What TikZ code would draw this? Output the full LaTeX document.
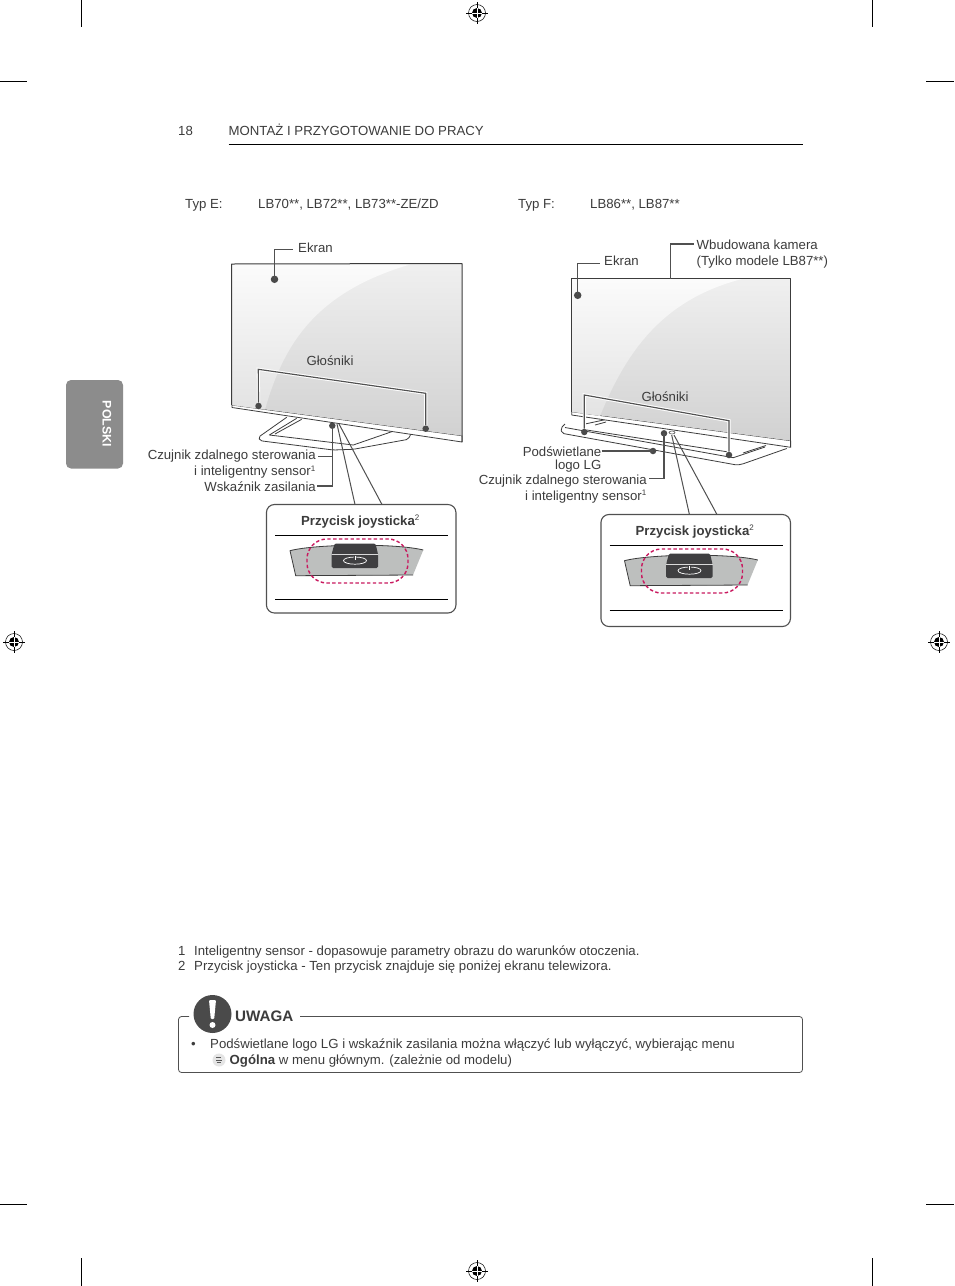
\documentclass[tikz,border=0pt]{standalone}
\usepackage{fontspec}
\setmainfont{Liberation Sans}
\usetikzlibrary{calc,shapes.geometric}
\definecolor{nInk}{HTML}{3C3C3C}
\definecolor{nLead}{HTML}{505050}
\definecolor{nDot}{HTML}{4A4A4A}
\definecolor{nTab}{HTML}{8C8C8C}
\definecolor{nBand}{HTML}{BDBFBE}
\definecolor{nKey}{HTML}{3F3F41}
\definecolor{sCrimson}{HTML}{C9195F}
\tikzset{
  txt/.style={font=\fontsize{13.2}{15}\selectfont, text=nInk, inner sep=0pt, text height=9pt, text depth=3pt},
  lblR/.style={txt, anchor=east},
  lblL/.style={txt, anchor=west},
  dotmark/.style={circle, fill=nDot, minimum size=6.5pt, inner sep=0pt},
  bigdot/.style={dotmark, minimum size=7.5pt},
  leader/.style={draw=nLead, line width=1.15pt},
  halo/.style={leader, preaction={draw=white, line width=3.2pt}},
  joyline/.style={draw=nLead, line width=1pt},
  insetbox/.style={draw=nLead, line width=1.1pt, rounded corners=8pt, minimum width=189.5pt, fill=white, inner sep=0pt},
  tvline/.style={draw=nInk, line width=0.8pt, line join=round},
  crop/.style={draw=black, line width=0.6pt},
}
\begin{document}
\begin{tikzpicture}[x=1pt, y=-1pt]
  \useasboundingbox[fill=white] (0,0) rectangle (954,1286);

  \foreach \cx/\cy/\dx/\dy in {81/0/0/27, 872/0/0/27, 81/1258/0/28, 872/1258/0/28, 0/81/27/0, 926/81/28/0, 0/1204/27/0, 926/1204/28/0}
    \draw[crop] (\cx,\cy) -- ++(\dx,\dy);
  \foreach \rx/\ry in {477/13, 14/642, 939/642, 477/1271} {
    \draw[black, line width=0.5pt] (\rx,\ry) circle[radius=8.5];
    \fill[black] (\rx,\ry) circle[radius=5];
    \draw[black, line width=0.5pt] (\rx-11,\ry) -- (\rx+11,\ry) (\rx,\ry-11) -- (\rx,\ry+11);
    \draw[white, line width=0.5pt] (\rx-5,\ry) -- (\rx+5,\ry) (\rx,\ry-5) -- (\rx,\ry+5);
  }

  \fill[nTab, rounded corners=5pt] (66,380) rectangle (123,468.5);
  \node[font=\fontsize{12.4}{13}\selectfont\bfseries, text=white, rotate=-90, inner sep=0pt] (tabText) at (107,424) {POLSKI};

  \node[lblL] (pageNo) at (178,132) {18};
  \node[lblL] (pageHead) at (228.5,132) {MONTAŻ I PRZYGOTOWANIE DO PRACY};
  \draw[black, line width=0.8pt] (228.5,144.5) -- (803,144.5);

  \node[lblL] (typE) at (185,205) {Typ E:};
  \node[lblL] (modelsE) at (258,205) {LB70**, LB72**, LB73**-ZE/ZD};
  \node[lblL] (typF) at (518,205) {Typ F:};
  \node[lblL] (modelsF) at (590,205) {LB86**, LB87**};

  \draw[tvline, fill=white, rounded corners=2pt] (286.7,417.3) -- (258.3,437.3) -- (260,440.7) -- (333.3,450) -- (353.3,449.3) -- (408.3,439.3) -- (411.7,432);
  \draw[tvline] (296.7,418.3) -- (269.3,435) -- (353.3,445) -- (391.7,431.7);
  \draw[tvline] (301.7,419.3) -- (275,434);
  \draw[tvline, fill=white] (232,405) -- (232,407.5) -- (462,442) -- (462,435.7) -- cycle;
  \shade[top color=gray!12, bottom color=gray!36] (231.7,264) -- (462,263.5) -- (462,435.7) -- (231.7,405) -- cycle;
  \shade[top color=gray!3, bottom color=gray!22] (231.7,264) -- (410,264.5) .. controls (313,293) and (283,347) .. (265,409.5) -- (231.7,405) -- cycle;
  \draw[tvline, line width=1pt] (231.7,405) -- (231.7,264) -- (462,263.5) -- (462,442);

  \node[lblL] (ekranE) at (298,249.3) {Ekran};
  \node[bigdot] (dotEkranE) at (274.5,279.3) {};
  \coordinate (ekranEnd) at ($(ekranE.west)+(-5,0)$);
  \draw[leader] (dotEkranE.center) |- (ekranEnd);

  \node[txt] (speakE) at (330,362.5) {Głośniki};
  \node[dotmark] (dotSpkAE) at (258.5,406) {};
  \node[dotmark] (dotSpkBE) at (425.7,428.7) {};
  \draw[halo] (dotSpkAE) -- (258.3,369.3) -- (425.7,393.3) -- (dotSpkBE);

  \node[lblR] (sensorE) at (316,456.5) {Czujnik zdalnego sterowania};
  \node[lblR] (sensorBE) at (316,472.5) {i inteligentny sensor\textsuperscript{\fontsize{8}{8}\selectfont 1}};
  \node[lblR] (powerE) at (316,488) {Wskaźnik zasilania};
  \node[dotmark] (dotSensorE) at (332.3,425.7) {};
  \coordinate (sensorEnd) at ($(sensorE.east)+(2,0)$);
  \coordinate (powerEnd) at ($(powerE.east)+(1,-2)$);
  \draw[leader] (dotSensorE.center) |- (powerEnd);
  \draw[leader] (sensorEnd) -- (dotSensorE |- sensorEnd);

  \draw[tvline, fill=white, rounded corners=2pt] (565,424) -- (560.7,428.3) -- (562,433.3) -- (736.7,465) -- (741.7,464.3) -- (786.7,448.5);
  \draw[tvline] (565,427.5) -- (733.3,457.7) -- (765,447);
  \draw[tvline] (586.7,430) -- (726.7,451.7);
  \draw[tvline] (743,453) -- (766,445.5);
  \draw[tvline] (585,424) -- (606,419.5) (595,425) -- (606,422);
  \draw[tvline, fill=white] (571.7,411.7) -- (571.7,415) -- (790.7,447.3) -- (790.7,440.7) -- cycle;
  \shade[top color=gray!12, bottom color=gray!36] (571.7,278.7) -- (790.7,278.7) -- (790.7,440.7) -- (571.7,411.7) -- cycle;
  \shade[top color=gray!3, bottom color=gray!22] (571.7,278.7) -- (742,279) .. controls (660,300) and (625,355) .. (600,416) -- (571.7,411.7) -- cycle;
  \draw[tvline, line width=1pt] (571.7,411.7) -- (571.7,278.7) -- (790.7,278.7) -- (790.7,447.3);

  \node[lblL] (ekranF) at (604,262.3) {Ekran};
  \node[bigdot] (dotEkranF) at (577.7,295.3) {};
  \coordinate (ekranFEnd) at ($(ekranF.west)+(-4,1)$);
  \draw[leader] (dotEkranF.center) |- (ekranFEnd);

  \node[lblL] (cameraF) at (696.5,246) {Wbudowana kamera};
  \node[lblL] (cameraBF) at (696.5,262.5) {(Tylko modele LB87**)};
  \coordinate (cameraTop) at (670.7,278.7);
  \coordinate (cameraEnd) at ($(cameraF.west)+(-3,-2)$);
  \draw[leader] (cameraTop) |- (cameraEnd);

  \node[txt] (speakF) at (665,398) {Głośniki};
  \node[dotmark] (dotSpkAF) at (584.3,432) {};
  \node[dotmark] (dotSpkBF) at (729,455) {};
  \draw[halo] (dotSpkAF) -- (584.3,395) -- (729,420.7) -- (dotSpkBF);

  \node[lblR] (logoF) at (601.5,453) {Podświetlane};
  \node[lblR] (logoBF) at (601.5,466.5) {logo LG};
  \node[dotmark] (dotLogoF) at (653,451) {};
  \coordinate (logoEnd) at ($(logoF.east)+(0,-2)$);
  \draw[leader] (logoEnd) -- (dotLogoF.center);
  \node[lblR] (sensorF) at (647,481.5) {Czujnik zdalnego sterowania};
  \node[lblR] (sensorBF) at (647,497) {i inteligentny sensor\textsuperscript{\fontsize{8}{8}\selectfont 1}};
  \node[dotmark] (dotSensorF) at (664,433.3) {};
  \coordinate (sensorFEnd) at ($(sensorF.east)+(2,-3)$);
  \draw[leader] (dotSensorF.center) |- (sensorFEnd);
  \node[ellipse, draw=nInk, line width=0.5pt, fill=white, minimum width=6pt, minimum height=3pt, inner sep=0pt] (joyLens) at (672,432.5) {};

  \coordinate (joyAE) at (337,424);
  \coordinate (joyBE) at (339,424);
  \coordinate (joyAF) at (671.7,435);
  \coordinate (joyBF) at (674,435);
  \coordinate (boxAE) at (355,504.5);
  \coordinate (boxBE) at (382,504.5);
  \coordinate (boxAF) at (689.3,514);
  \coordinate (boxBF) at (716.7,514);
  \draw[joyline] (joyAE) -- (boxAE) (joyBE) -- (boxBE) (joyAF) -- (boxAF) (joyBF) -- (boxBF);

  \foreach \bx/\by/\bh/\bm/\bn in {0/0/108.5/559/E, 334.5/10/112/570/F} {
    \begin{scope}[shift={(\bx,\by)}]
      \node[insetbox, minimum height=\bh pt] (box\bn) at (361.2,504.5+\bh/2) {};
      \node[txt, font=\fontsize{13.2}{15}\selectfont\bfseries] (title\bn) at (360.5,522) {Przycisk joysticka\textsuperscript{\fontsize{8}{8}\selectfont\mdseries 2}};
      \draw[black, line width=0.8pt] (275,535.5) -- (448,535.5);
      \draw[black, line width=0.8pt] (275,\bm+40.5-\by) -- (448,\bm+40.5-\by);
      \fill[nBand] (290,550.7) .. controls (315,544) and (395,543) .. (423.3,550) -- (413,575) -- (295.7,575.7) -- cycle;
      \draw[nInk, line width=0.8pt] (423.3,550) .. controls (395,543) and (315,544) .. (290,550.7) -- (295.7,575.7) -- (413,575);
      \fill[nKey, rounded corners=1.5pt] (334.5,543.5) -- (375.5,543.5) -- (378,554) -- (378,568) -- (331.7,568) -- (331.7,554) -- cycle;
      \draw[white!85!black, line width=0.5pt] (331.7,554) -- (378,554);
      \draw[white, line width=0.7pt] (355,560.6) ellipse[x radius=11.5, y radius=3.6];
      \draw[nKey, line width=2.4pt] (355,556) -- (355,558.5);
      \draw[white, line width=0.7pt] (355,555.5) -- (355,559.5);
      \draw[sCrimson, line width=1.4pt, dash pattern=on 3.4pt off 2.4pt, rounded corners=20pt] (307,539) rectangle (408,583);
    \end{scope}
  }

  \node[lblL] (noteA) at (178,952.5) {1};
  \node[lblL] (noteAt) at (194,952.5) {Inteligentny sensor - dopasowuje parametry obrazu do warunków otoczenia.};
  \node[lblL] (noteB) at (178,967.5) {2};
  \node[lblL] (noteBt) at (194,967.5) {Przycisk joysticka - Ten przycisk znajduje się poniżej ekranu telewizora.};

  \draw[nLead, line width=0.8pt, rounded corners=3pt] (189,1016.5) -- (178.5,1016.5) -- (178.5,1072.5) -- (802.5,1072.5) -- (802.5,1016.5) -- (300,1016.5);
  \node[circle, fill=nDot, minimum size=38pt, inner sep=0pt] (iconNote) at (212.5,1014) {};
  \fill[white, rounded corners=1pt] (209,1000) -- (216,1000) -- (214.2,1019) -- (210.8,1019) -- cycle;
  \fill[white] (212.5,1025) circle[radius=3];
  \node[lblL, font=\fontsize{15.2}{17}\selectfont\bfseries] (uwaga) at (235,1018) {UWAGA};
  \node[lblL] (bulletNote) at (191,1045) {•};
  \node[lblL] (noteLineA) at (210,1045) {Podświetlane logo LG i wskaźnik zasilania można włączyć lub wyłączyć, wybierając menu};
  \node[circle, fill=gray!20, minimum size=13pt, inner sep=0pt] (iconMenu) at (219,1060) {};
  \draw[gray!70!black, line width=0.6pt] (216,1057.5) -- (221,1057.5) (216,1060) -- (222,1060) (216.5,1062.5) -- (221,1062.5);
  \node[lblL] (noteLineB) at (229.5,1061) {\textbf{Ogólna} w menu głównym. (zależnie od modelu)};
\end{tikzpicture}
\end{document}
